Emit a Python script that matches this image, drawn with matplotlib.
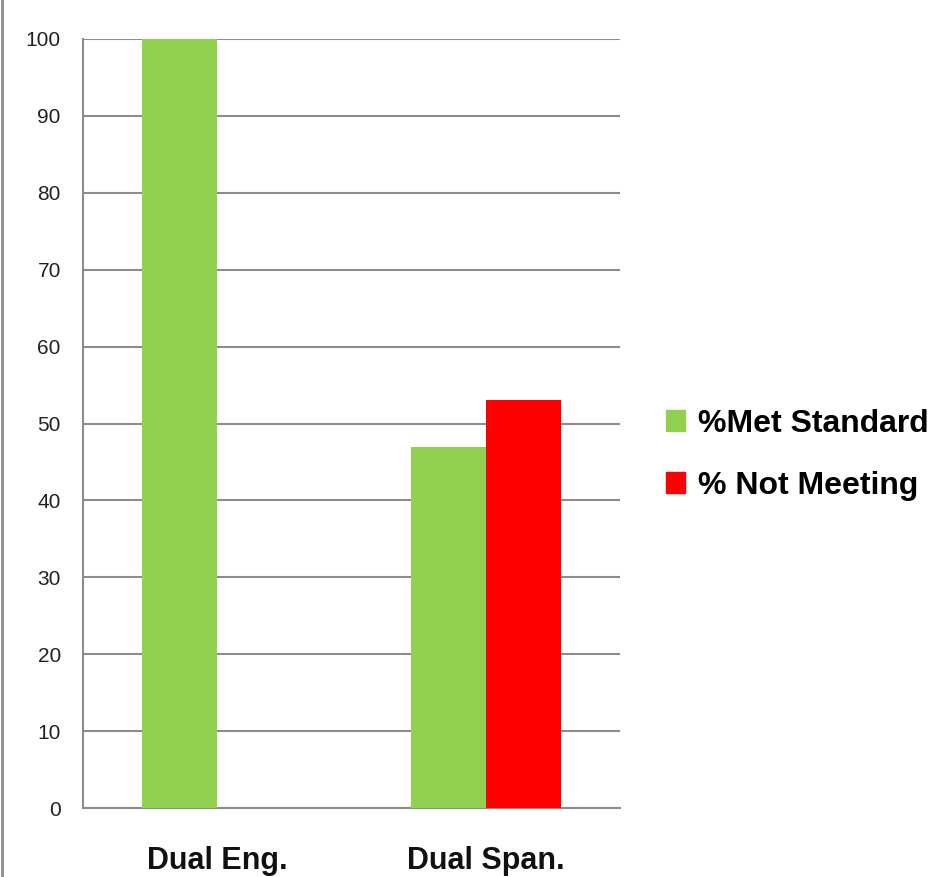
import matplotlib.pyplot as plt
from matplotlib.lines import Line2D
from matplotlib.patches import Patch
import numpy as np

plt.rcParams['font.family'] = ['Liberation Sans', 'DejaVu Sans']

categories = ['Dual Eng.', 'Dual Span.']
met_standard = [100, 47]
not_meeting = [0, 53]
yticks = [0, 10, 20, 30, 40, 50, 60, 70, 80, 90, 100]

green = '#92D050'
red = '#FF0000'
grid_col = '#8C8C8C'

fig = plt.figure(figsize=(9.39, 8.77), dpi=100)
ax = fig.add_axes([83 / 939, 69 / 877, 537 / 939, 769 / 877])

x = np.arange(len(categories)) + 0.5
w = 0.28
ax.bar(x - w / 2, met_standard, w, color=green, zorder=3)
ax.bar(x + w / 2, not_meeting, w, color=red, zorder=3)

ax.set_xlim(0, 2)
ax.set_ylim(0, 100)
ax.set_yticks(yticks)
ax.set_yticklabels([str(t) for t in yticks], fontsize=15, color='#222222')
ax.yaxis.grid(True, color=grid_col, linewidth=1.5, zorder=0)
ax.tick_params(axis='y', length=0, pad=16)
ax.tick_params(axis='x', length=0, pad=27)
ax.set_xticks(x)
ax.set_xticklabels(categories, fontsize=22, fontweight='bold', color='#111111')

for s in ['top', 'right']:
    ax.spines[s].set_visible(False)
for s in ['left', 'bottom']:
    ax.spines[s].set_color(grid_col)
    ax.spines[s].set_linewidth(1.5)

handles = [Patch(color=green, label='%Met Standard'),
           Patch(color=red, label='% Not Meeting')]
fig.legend(handles=handles, loc='center left', bbox_to_anchor=(666 / 939, 1 - 455 / 877),
           frameon=False, prop={'size': 23, 'weight': 'bold'}, borderpad=0, borderaxespad=0,
           handlelength=0.6, handleheight=0.65, handletextpad=0.4, labelspacing=1.0)

# grey border at left edge
fig.add_artist(Line2D([2 / 939, 2 / 939], [0, 1], color='#8C8C8C', linewidth=2))

fig.savefig('out.png', dpi=100)
